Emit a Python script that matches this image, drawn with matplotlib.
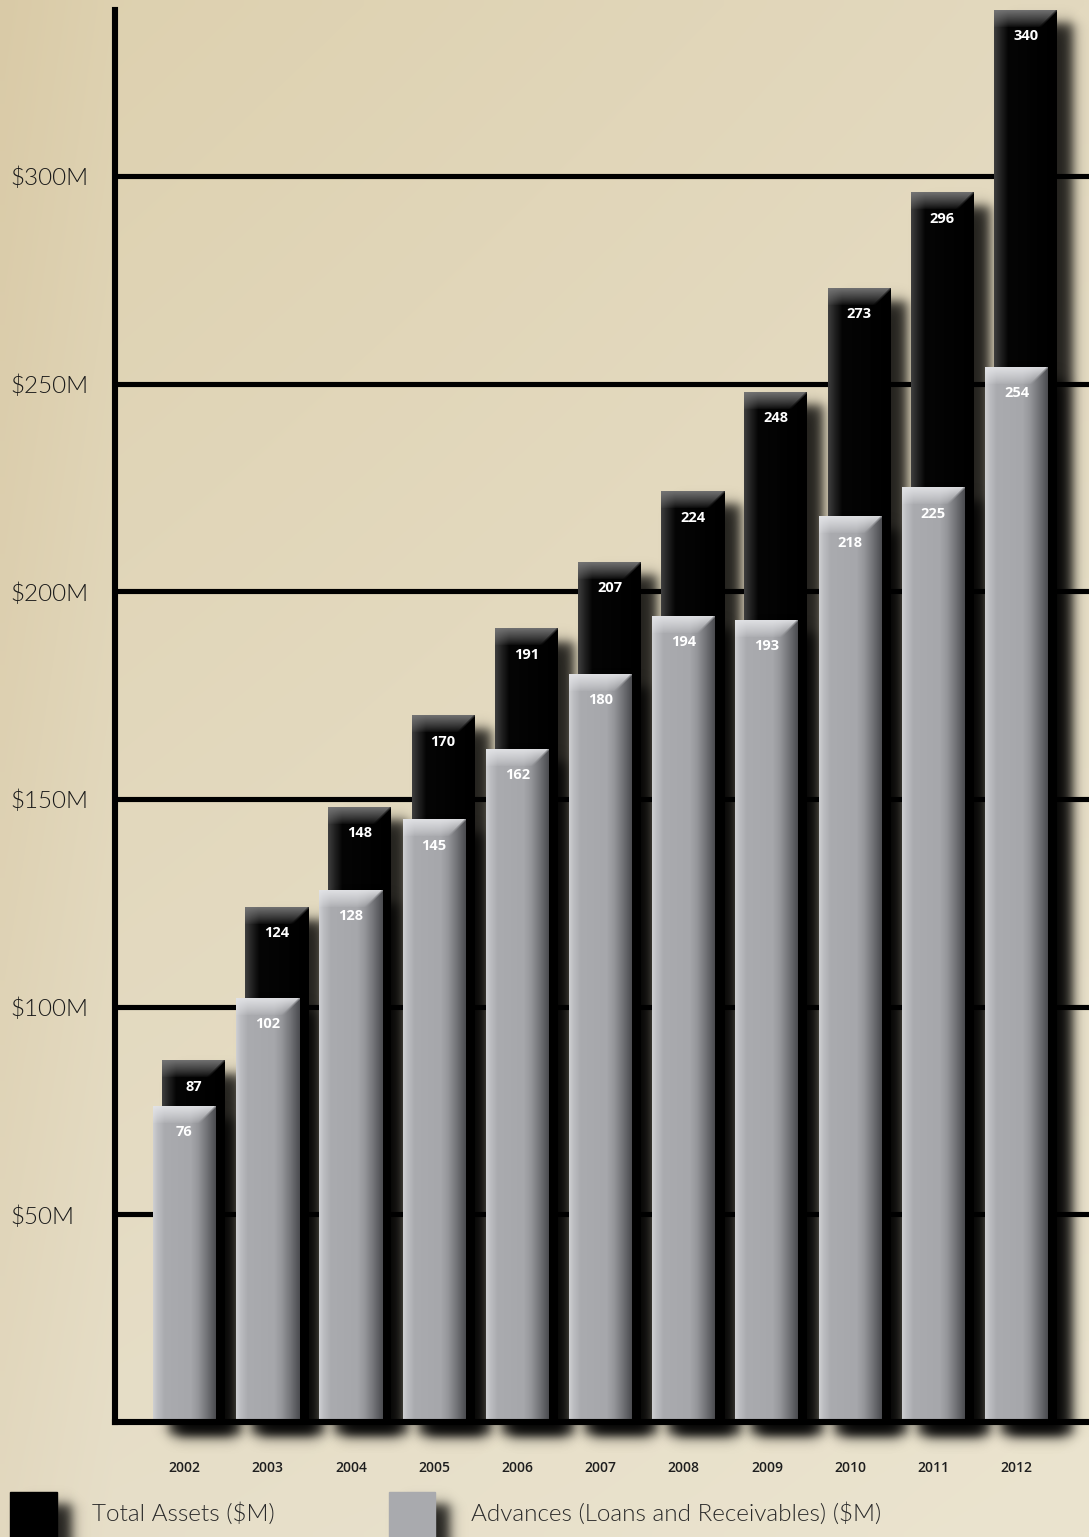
import numpy as np
import matplotlib
matplotlib.use('Agg')
import matplotlib.pyplot as plt
from matplotlib.colors import to_rgb
from matplotlib.patches import Rectangle

# ---------------- data ----------------
years = ['2002', '2003', '2004', '2005', '2006', '2007', '2008', '2009', '2010', '2011', '2012']
total_assets = [87, 124, 148, 170, 191, 207, 224, 248, 273, 296, 340]
advances = [76, 102, 128, 145, 162, 180, 194, 193, 218, 225, 254]
y_ticks = [50, 100, 150, 200, 250, 300]
y_tick_labels = ['$50M', '$100M', '$150M', '$200M', '$250M', '$300M']
legend_labels = ['Total Assets ($M)', 'Advances (Loans and Receivables) ($M)']

# ---------------- figure ----------------
W, H = 1089, 1537
fig = plt.figure(figsize=(W / 100, H / 100), dpi=100)

light_font = ['Lato', 'DejaVu Sans']
light_w = 300
bold_font = ['Open Sans', 'DejaVu Sans']

# background (parchment-like smooth gradient)
bg_ax = fig.add_axes([0, 0, 1, 1])
bg_ax.axis('off')
ny, nx = 160, 120
yy, xx = np.mgrid[0:1:ny * 1j, 0:1:nx * 1j]
TL = np.array(to_rgb('#ddd0ae'))
TR = np.array(to_rgb('#e3d9bf'))
BL = np.array(to_rgb('#e6dec8'))
BR = np.array(to_rgb('#ebe4cf'))
bg = ((1 - xx)[..., None] * (1 - yy)[..., None] * TL + xx[..., None] * (1 - yy)[..., None] * TR
      + (1 - xx)[..., None] * yy[..., None] * BL + xx[..., None] * yy[..., None] * BR)
# slightly darker tan band along the far left
edge = np.clip(1 - xx / 0.1, 0, 1)[..., None] * (1 - 0.5 * yy[..., None])
bg = bg * (1 - 0.35 * edge) + np.array(to_rgb('#d3c09a')) * 0.35 * edge
bg_ax.imshow(bg, extent=[0, W, H, 0], aspect='auto', interpolation='bilinear', zorder=0)
bg_ax.set_xlim(0, W)
bg_ax.set_ylim(H, 0)

# main axes
ax_l, ax_r, ax_t, ax_b = 115, 1089, 10, 1422
ax = fig.add_axes([ax_l / W, (H - ax_b) / H, (ax_r - ax_l) / W, (ax_b - ax_t) / H])
ax.patch.set_alpha(0)
xlim = (-0.835, 10.87)
ylim = (0, 340)
px_x = (ax_r - ax_l) / (xlim[1] - xlim[0])
px_y = (ax_b - ax_t) / (ylim[1] - ylim[0])

bar_px = 63
bw = bar_px / px_x
back_off = 9 / px_x


def interp_profile(stops, n):
    pos = np.array([s[0] for s in stops])
    cols = np.array([to_rgb(s[1]) for s in stops])
    t = np.linspace(0, 1, n)
    return np.stack([np.interp(t, pos, cols[:, k]) for k in range(3)], axis=1)


grey_profile = [(0.0, '#cdced1'), (0.06, '#bdbec2'), (0.18, '#aaabaf'), (0.6, '#a6a7ab'),
                (0.72, '#95969a'), (0.85, '#75767a'), (1.0, '#4c4d51')]
black_profile = [(0.0, '#3d3d3d'), (0.1, '#222222'), (0.22, '#050505'), (1.0, '#000000')]


def bar_image(height_px, profile, top_col, bevel=17):
    h = max(int(round(height_px)), 2)
    w = bar_px
    row = interp_profile(profile, w)
    img = np.repeat(row[None, :, :], h, axis=0)
    d = np.arange(h)[:, None] * np.ones((1, w))
    xr = (w - 1 - np.arange(w))[None, :] * np.ones((h, 1))
    diag = np.clip((xr - d) / 4 + 0.5, 0, 1)
    wgt = np.clip(1 - d / bevel, 0, 1) ** 0.8 * diag * 0.9
    tc = np.array(to_rgb(top_col))
    img = img * (1 - wgt[..., None]) + tc * wgt[..., None]
    return img


def shadow_image(w_px, h_px, margin=22, soft=7.0, strength=0.85):
    wi = int(w_px + 2 * margin)
    hi = int(h_px + 2 * margin)
    u = np.arange(wi) + 0.5
    v = np.arange(hi) + 0.5
    sx = 0.5 * (np.tanh((u - margin) / soft) - np.tanh((u - (margin + w_px)) / soft))
    sy = 0.5 * (np.tanh((v - margin) / soft) - np.tanh((v - (margin + h_px)) / soft))
    a = strength * sy[:, None] * sx[None, :]
    img = np.zeros((hi, wi, 4))
    img[..., 3] = a
    return img


def draw_shadow(x0, val, z, ox=16, oy=13, margin=22):
    hpx = val * px_y
    img = shadow_image(bar_px, hpx, margin=margin)
    left = x0 + (ox - margin) / px_x
    right = left + img.shape[1] / px_x
    top = val - (oy - margin) / px_y
    bottom = top - img.shape[0] / px_y
    ax.imshow(img, extent=[left, right, bottom, top], aspect='auto',
              interpolation='bilinear', zorder=z, clip_on=False)


x = np.arange(len(years))

# gridlines
for t in y_ticks:
    ax.axhline(t, color='black', lw=3.7, zorder=1, solid_capstyle='butt')

for i in range(len(years)):
    zb = 2 + i * 0.5
    # back bar: total assets
    bx0 = x[i] + back_off - bw / 2
    draw_shadow(bx0, total_assets[i], zb)
    ax.imshow(bar_image(total_assets[i] * px_y, black_profile, '#7a7a7a'),
              extent=[bx0, bx0 + bw, 0, total_assets[i]], aspect='auto',
              interpolation='bilinear', zorder=zb + 0.1)
    ax.text(x[i] + back_off, total_assets[i] - 26 / px_y, str(total_assets[i]),
            ha='center', va='center', color='white', fontsize=10.5,
            fontweight='bold', family=bold_font, zorder=50)
    # front bar: advances
    fx0 = x[i] - bw / 2
    draw_shadow(fx0, advances[i], zb + 0.2)
    ax.imshow(bar_image(advances[i] * px_y, grey_profile, '#e4e5e8'),
              extent=[fx0, fx0 + bw, 0, advances[i]], aspect='auto',
              interpolation='bilinear', zorder=zb + 0.3)
    ax.text(x[i], advances[i] - 26 / px_y, str(advances[i]),
            ha='center', va='center', color='white', fontsize=10.5,
            fontweight='bold', family=bold_font, zorder=50)

ax.set_xlim(*xlim)
ax.set_ylim(*ylim)

# spines
for s in ['top', 'right']:
    ax.spines[s].set_visible(False)
for s in ['left', 'bottom']:
    ax.spines[s].set_linewidth(4.4)
    ax.spines[s].set_color('black')
    ax.spines[s].set_zorder(100)
    ax.spines[s].set_capstyle('projecting')

ax.set_yticks(y_ticks)
ax.set_yticklabels(y_tick_labels, family=light_font, fontweight=light_w,
                   fontsize=17.5, color='#1a1a1a')
for lab in ax.get_yticklabels():
    lab.set_horizontalalignment('left')
ax.tick_params(axis='y', length=0, pad=(ax_l - 10) / 1.389)

ax.set_xticks(x)
ax.set_xticklabels(years, family=bold_font, fontsize=10, fontweight='semibold', color='#1e1e1e')
ax.tick_params(axis='x', length=0, pad=39 / 1.389)

# legend (drawn in pixel space on the background axes)
def legend_shadow(x0, y0, w, h):
    img = shadow_image(w, h, margin=22, soft=7.0, strength=0.85)
    bg_ax.imshow(img, extent=[x0 + 15 - 22, x0 + 15 - 22 + img.shape[1],
                              y0 + 12 - 22 + img.shape[0], y0 + 12 - 22],
                 aspect='auto', interpolation='bilinear', zorder=1)

legend_shadow(10, 1492, 47, 60)
bg_ax.add_patch(Rectangle((10, 1492), 47, 60, color='black', zorder=2))
bg_ax.text(92, 1514, legend_labels[0], ha='left', va='center', family=light_font,
           fontweight=light_w, fontsize=17.5, color='#2a2a2a', zorder=3)
legend_shadow(389, 1492, 46, 60)
bg_ax.add_patch(Rectangle((389, 1492), 46, 60, color='#a9aaae', zorder=2))
bg_ax.text(471, 1514, legend_labels[1], ha='left', va='center', family=light_font,
           fontweight=light_w, fontsize=17.5, color='#2a2a2a', zorder=3)
bg_ax.set_xlim(0, W)
bg_ax.set_ylim(H, 0)

fig.savefig('out.png', dpi=100)
